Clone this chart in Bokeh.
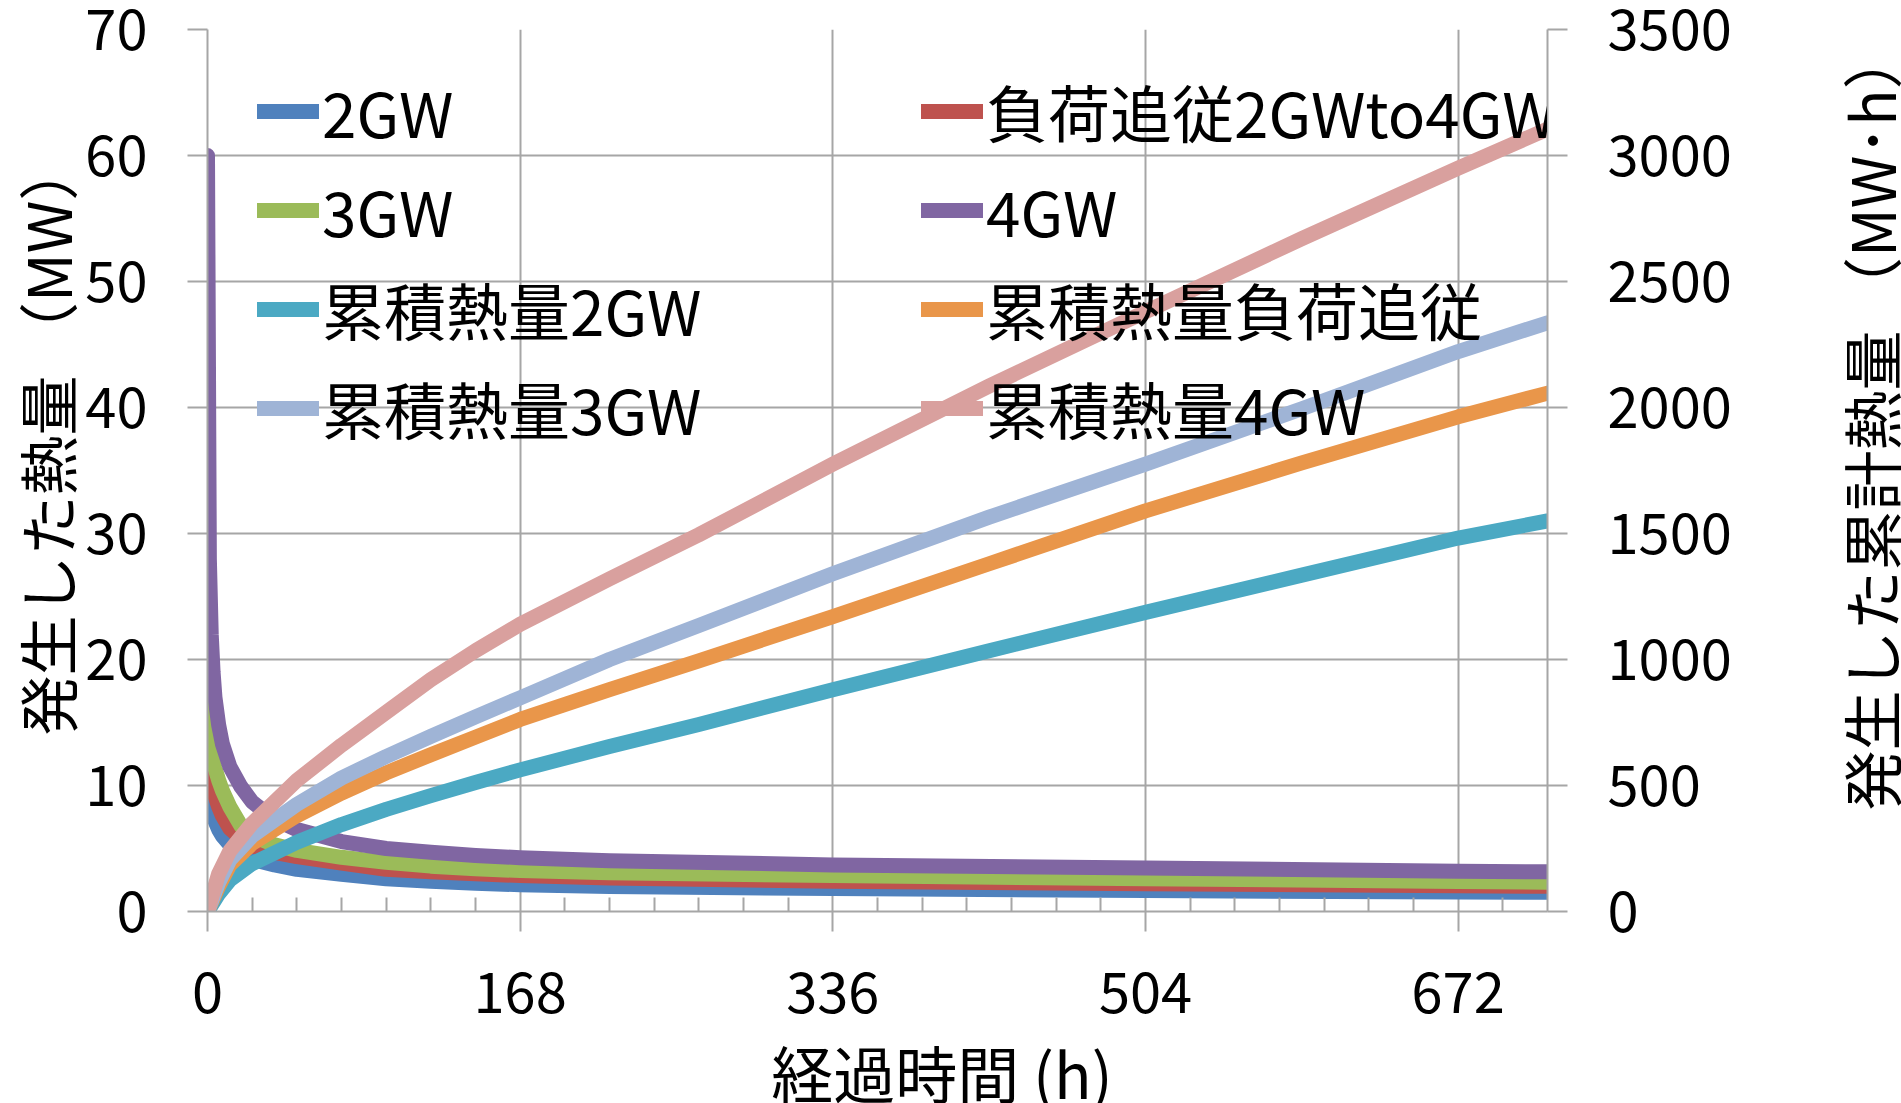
import math
from bokeh.plotting import figure
from bokeh.layouts import row, column
from bokeh.models import (Range1d, LinearAxis, FixedTicker, Legend, LegendItem)
from bokeh.core.properties import value
from bokeh.embed import file_html
from bokeh.resources import INLINE

FONT = "Noto Sans CJK JP"
GRID = "#A6A6A6"

# Heat generation (MW) against elapsed time (h)
hours_mw = [0, 1, 2, 3, 4, 6, 8, 12, 18, 24, 36, 48, 72, 96, 120, 144, 168, 216, 336, 504, 672, 720]
mw_2gw = [13.0, 9.5, 8.4, 7.7, 7.2, 6.5, 6.0, 5.3, 4.6, 4.15, 3.7, 3.35, 2.95, 2.6, 2.4, 2.25, 2.12, 1.98, 1.82, 1.66, 1.55, 1.52]
mw_follow = [10.6, 10.4, 10.1, 9.7, 9.2, 8.3, 7.6, 6.6, 5.8, 5.2, 4.7, 4.35, 3.85, 3.35, 3.15, 3.0, 2.85, 2.65, 2.4, 2.2, 2.05, 2.0]
mw_3gw = [16.5, 14.0, 12.8, 12.0, 11.4, 10.4, 9.6, 8.3, 6.8, 6.0, 5.3, 4.85, 4.3, 3.9, 3.6, 3.4, 3.25, 3.08, 2.85, 2.6, 2.38, 2.33]
mw_4gw = [60.0, 28.0, 22.0, 19.0, 17.0, 14.8, 13.3, 11.5, 9.9, 8.7, 7.3, 6.5, 5.55, 5.0, 4.7, 4.45, 4.27, 4.03, 3.7, 3.45, 3.2, 3.15]

# Cumulative heat (MW·h) against elapsed time (h)
hours_cum = [0, 6, 12, 24, 48, 72, 96, 120, 144, 168, 216, 264, 336, 420, 504, 588, 672, 720]
cum_2gw = [0, 70, 125, 190, 275, 345, 405, 460, 512, 562, 655, 742, 880, 1035, 1187, 1335, 1482, 1550]
cum_follow = [0, 100, 185, 270, 380, 470, 550, 622, 692, 762, 880, 995, 1170, 1380, 1590, 1780, 1963, 2057]
cum_3gw = [0, 115, 205, 300, 425, 530, 615, 695, 772, 848, 1000, 1135, 1340, 1565, 1775, 1995, 2222, 2336]
cum_4gw = [0, 150, 240, 350, 520, 660, 790, 920, 1035, 1140, 1320, 1495, 1775, 2085, 2380, 2670, 2950, 3105]

series_names = ["2GW", "負荷追従2GWto4GW", "3GW", "4GW",
                "累積熱量2GW", "累積熱量負荷追従", "累積熱量3GW", "累積熱量4GW"]
series_colors = ["#4F81BD", "#BE524E", "#9BBB59", "#8066A2",
                 "#4BA9C3", "#E9964A", "#9FB4D6", "#D9A09E"]

x_ticks = [0, 168, 336, 504, 672]
x_minor = [h for h in range(24, 720, 24) if h % 168 != 0]
y_ticks = list(range(0, 71, 10))
y2_ticks = list(range(0, 3501, 500))

x_title = "経過時間 (h)"
y_title = "発生した熱量 （MW）"
y2_title = "発生した累計熱量 （MW･h）"

# page split: left title strip | (chart over bottom title strip) | right title strip
W_LEFT, W_RIGHT, H_CHART = 78, 71, 1041
W_CHART = 1901 - W_LEFT - W_RIGHT

p = figure(width=W_CHART, height=H_CHART, x_range=Range1d(0, 720), y_range=Range1d(0, 70),
           output_backend="svg", toolbar_location=None,
           min_border_left=129, min_border_right=W_CHART - 1469,
           min_border_top=29, min_border_bottom=H_CHART - 911)
p.extra_y_ranges = {"cum": Range1d(0, 3500)}
p.outline_line_color = None
p.background_fill_color = "white"
p.border_fill_color = "white"


def style_axis(ax, standoff):
    ax.axis_line_color = GRID
    ax.axis_line_width = 2
    ax.major_tick_line_color = GRID
    ax.major_tick_line_width = 2
    ax.major_tick_out = 20
    ax.major_tick_in = 0
    ax.minor_tick_line_color = GRID
    ax.minor_tick_line_width = 2
    ax.minor_tick_out = 0
    ax.minor_tick_in = 0
    ax.major_label_text_font = FONT
    ax.major_label_text_font_size = "56px"
    ax.major_label_text_color = "black"
    ax.major_label_standoff = standoff


xa = p.xaxis[0]
xa.ticker = FixedTicker(ticks=x_ticks, minor_ticks=x_minor)
style_axis(xa, 40)
xa.minor_tick_in = 14

ya = p.yaxis[0]
ya.ticker = FixedTicker(ticks=y_ticks, minor_ticks=[])
style_axis(ya, 40)

ra = LinearAxis(y_range_name="cum", ticker=FixedTicker(ticks=y2_ticks, minor_ticks=[]))
style_axis(ra, 40)
p.add_layout(ra, "right")

p.xgrid.ticker = FixedTicker(ticks=x_ticks[1:])
p.ygrid.ticker = FixedTicker(ticks=y_ticks[1:])
for g in (p.xgrid, p.ygrid):
    g.grid_line_color = GRID
    g.grid_line_width = 2

renderers = []
mw_series = [mw_2gw, mw_follow, mw_3gw, mw_4gw]
cum_series = [cum_2gw, cum_follow, cum_3gw, cum_4gw]
for i, ys in enumerate(mw_series):
    r = p.line(hours_mw, ys, line_color=series_colors[i], line_width=15,
               line_cap="round", line_join="round")
    renderers.append(r)
for i, ys in enumerate(cum_series):
    r = p.line(hours_cum, ys, y_range_name="cum", line_color=series_colors[4 + i],
               line_width=15, line_cap="round", line_join="round")
    renderers.append(r)

# two legend columns, filled row by row
legend_cols = [[0, 2, 4, 6], [1, 3, 5, 7]]
legend_x = [50, 714]
for col, lx in zip(legend_cols, legend_x):
    leg = Legend(items=[LegendItem(label=series_names[k], renderers=[renderers[k]]) for k in col],
                 location=(lx, 458), orientation="vertical",
                 glyph_width=62, glyph_height=40, label_standoff=3, spacing=9,
                 padding=0, margin=0, background_fill_alpha=0, border_line_alpha=0,
                 label_text_font=FONT, label_text_font_size="62px",
                 label_text_color="black")
    p.add_layout(leg)


def text_strip(width, height):
    s = figure(width=width, height=height, x_range=Range1d(0, width), y_range=Range1d(0, height),
               output_backend="svg", toolbar_location=None,
               x_axis_type=None, y_axis_type=None, min_border=0)
    s.outline_line_color = None
    s.grid.visible = False
    s.background_fill_color = "white"
    s.border_fill_color = "white"
    return s


title_style = dict(text_font=value(FONT), text_color="black", text_baseline="middle")

q_left = text_strip(W_LEFT, 1103)
q_left.text(x=[45], y=[1103 - 735], text=[y_title], angle=math.pi / 2,
            text_align="left", text_font_size="60px", **title_style)

q_right = text_strip(W_RIGHT, 1103)
q_right.text(x=[39], y=[1103 - 810], text=[y2_title], angle=math.pi / 2,
             text_align="left", text_font_size="60px", **title_style)

q_bottom = text_strip(W_CHART, 1103 - H_CHART)
q_bottom.text(x=[737], y=[1103 - 1071], text=[x_title],
              text_align="left", text_font_size="62px", **title_style)

layout = row(q_left, column(p, q_bottom, spacing=0), q_right, spacing=0)
open("out.html", "w").write(file_html(layout, INLINE))
